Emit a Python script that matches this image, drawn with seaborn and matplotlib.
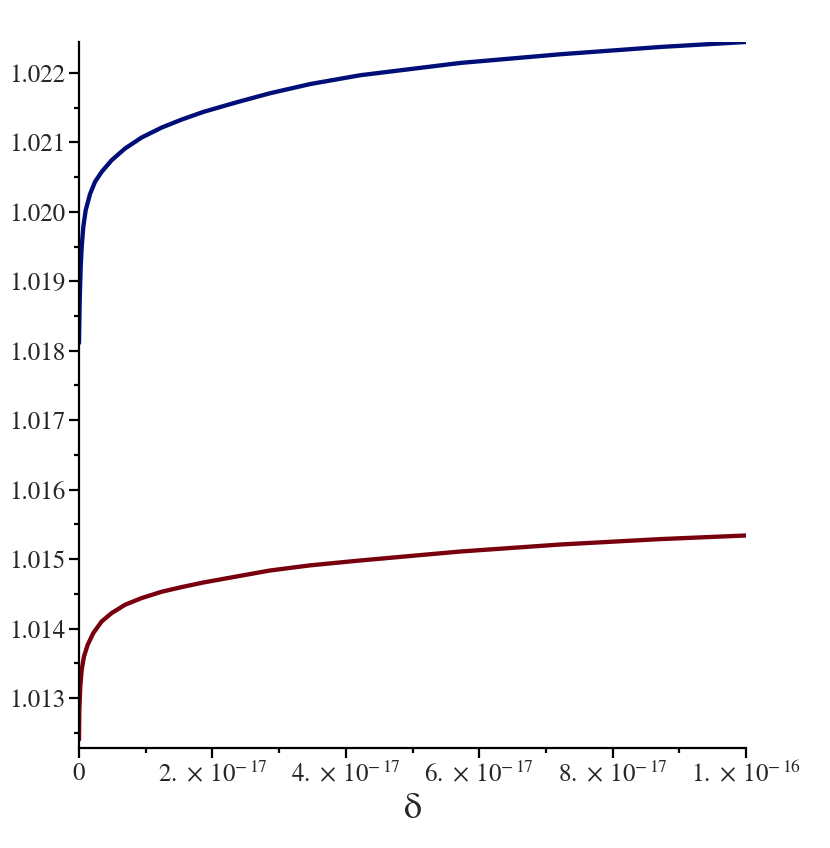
import matplotlib
matplotlib.use("Agg")
import matplotlib.pyplot as plt
import pandas as pd
import seaborn as sns

# Data (x in units of 1e-17)
delta_blue = [0.0, 0.0105, 0.0255, 0.0405, 0.0645, 0.1005, 0.165, 0.24, 0.34,
              0.49, 0.69, 0.94, 1.24, 1.54, 1.864, 2.365, 2.865, 3.465, 4.215,
              5.715, 7.215, 8.715, 10.0]
upper = [1.018111, 1.018729, 1.019209, 1.019496, 1.019784, 1.020024, 1.020255,
         1.020432, 1.020576, 1.020744, 1.020912, 1.021071, 1.021214, 1.021329,
         1.021439, 1.021578, 1.021708, 1.021840, 1.021967, 1.022144, 1.022269,
         1.022374, 1.022446]

delta_red = [0.0, 0.005, 0.0195, 0.0405, 0.075, 0.1305, 0.2145, 0.34, 0.49,
             0.69, 0.94, 1.24, 1.54, 1.864, 2.365, 2.865, 3.465, 4.215, 5.715,
             7.215, 8.715, 10.0]
lower = [1.0124, 1.012832, 1.013167, 1.013407, 1.013599, 1.013767, 1.013935,
         1.014102, 1.014223, 1.014342, 1.014439, 1.01453, 1.014597, 1.014663,
         1.01475, 1.014836, 1.014910, 1.01498, 1.015109, 1.01521, 1.015288,
         1.01534]

x_ticks = [0, 2e-17, 4e-17, 6e-17, 8e-17, 1e-16]
x_labels = ["0", r"$2.\,\times\,10^{-\,17}$", r"$4.\,\times\,10^{-\,17}$",
            r"$6.\,\times\,10^{-\,17}$", r"$8.\,\times\,10^{-\,17}$",
            r"$1.\,\times\,10^{-\,16}$"]
y_ticks = [1.013, 1.014, 1.015, 1.016, 1.017, 1.018, 1.019, 1.020, 1.021, 1.022]

df_blue = pd.DataFrame({"delta": [d * 1e-17 for d in delta_blue], "value": upper})
df_red = pd.DataFrame({"delta": [d * 1e-17 for d in delta_red], "value": lower})

sns.set_style("white")
plt.rcParams["font.family"] = ["STIXGeneral", "Liberation Serif", "DejaVu Serif"]
plt.rcParams["mathtext.fontset"] = "stix"

fig = plt.figure(figsize=(8.3, 8.48), dpi=100)
ax = fig.add_axes([79 / 830, 1 - 748 / 848, 667 / 830, (748 - 41.7) / 848])

sns.lineplot(data=df_blue, x="delta", y="value", color="#000E78", lw=3.1,
             estimator=None, ax=ax)
sns.lineplot(data=df_red, x="delta", y="value", color="#78000E", lw=3.1,
             estimator=None, ax=ax)

ax.set_xlim(0, 1e-16)
ax.set_ylim(1.01228, 1.02245)

for s in ["top", "right"]:
    ax.spines[s].set_visible(False)
for s in ["left", "bottom"]:
    ax.spines[s].set_color("black")
    ax.spines[s].set_linewidth(1.6)

ax.set_xticks(x_ticks)
ax.set_xticklabels(x_labels)
ax.set_xticks([1e-17, 3e-17, 5e-17, 7e-17, 9e-17], minor=True)
ax.set_yticks(y_ticks)
ax.set_yticklabels([f"{v:.3f}" for v in y_ticks])
ax.set_yticks([v + 0.0005 for v in [1.012] + y_ticks[:-1]], minor=True)

ax.tick_params(which="major", direction="out", length=7, width=1.6,
               color="black", labelsize=18, pad=3)
ax.tick_params(which="minor", direction="out", length=3.5, width=1.6,
               color="black")
ax.tick_params(axis="both", which="both", bottom=True, left=True)

ax.set_xlabel("δ", fontsize=26, labelpad=4)
ax.set_ylabel("")

fig.savefig("out.png", dpi=100)
